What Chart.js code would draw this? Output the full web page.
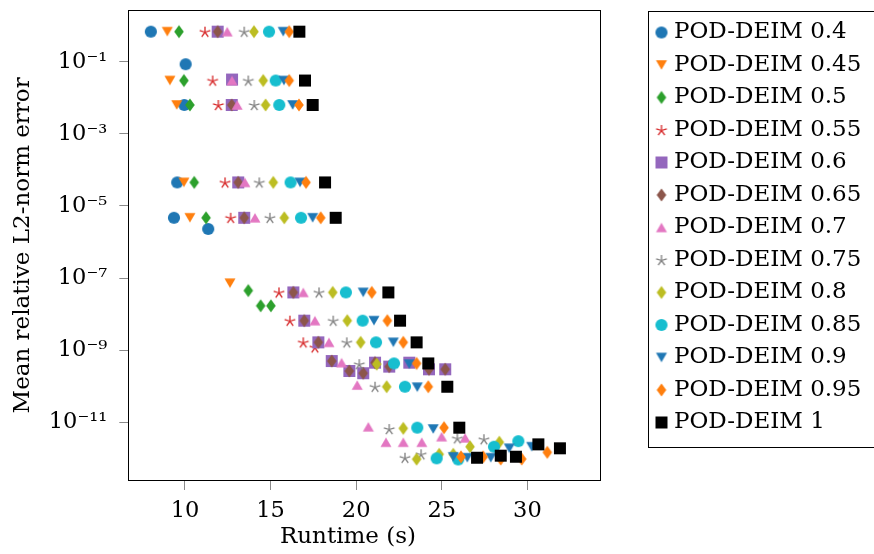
<!DOCTYPE html>
<html>
<head>
<meta charset="utf-8">
<title>POD-DEIM: runtime vs. mean relative L2-norm error</title>
<script src="https://cdn.jsdelivr.net/npm/chart.js@4.4.1/dist/chart.umd.min.js"></script>
<style>
html, body { margin: 0; padding: 0; background: #ffffff; }
#wrap { position: relative; width: 874px; height: 554px; }
</style>
</head>
<body>
<div id="wrap"><canvas id="chart"></canvas></div>
<script>
// ---------------- data ----------------
const seriesLabels = ['POD-DEIM 0.4', 'POD-DEIM 0.45', 'POD-DEIM 0.5', 'POD-DEIM 0.55', 'POD-DEIM 0.6',
  'POD-DEIM 0.65', 'POD-DEIM 0.7', 'POD-DEIM 0.75', 'POD-DEIM 0.8', 'POD-DEIM 0.85', 'POD-DEIM 0.9',
  'POD-DEIM 0.95', 'POD-DEIM 1'];

const runtime040 = [8.01, 10.04, 9.96, 9.55, 9.36, 11.36];
const error040   = [0.68, 0.085, 0.0063, 4.5e-5, 4.7e-6, 2.3e-6];

const runtime045 = [8.97, 9.12, 9.52, 9.94, 10.29, 12.63];
const error045   = [0.68, 0.030, 0.0063, 4.5e-5, 4.7e-6, 7.2e-8];

const runtime050 = [9.65, 9.94, 10.29, 10.54, 11.23, 13.70, 14.42, 15.02];
const error050   = [0.68, 0.030, 0.0063, 4.5e-5, 4.7e-6, 4.5e-8, 1.7e-8, 1.7e-8];

const runtime055 = [11.17, 11.62, 11.95, 12.34, 12.67, 15.49, 16.13, 16.91, 17.59];
const error055   = [0.68, 0.030, 0.0063, 4.5e-5, 4.7e-6, 4.0e-8, 6.6e-9, 1.65e-9, 1.2e-9];

const runtime060 = [11.91, 12.75, 12.73, 13.11, 13.46, 16.33, 16.97, 17.79, 18.57, 19.60, 20.41, 21.10, 21.93, 23.10, 24.25, 25.20];
const error060   = [0.68, 0.032, 0.0063, 4.5e-5, 4.7e-6, 4.0e-8, 6.6e-9, 1.65e-9, 5.0e-10, 2.65e-10, 2.3e-10, 4.5e-10, 3.5e-10, 4.5e-10, 2.95e-10, 2.95e-10];

const runtime065 = [11.91, 12.73, 13.11, 13.46, 16.33, 16.97, 17.79, 18.57, 19.60, 20.41, 21.10, 21.93, 24.25, 25.20];
const error065   = [0.68, 0.0063, 4.5e-5, 4.7e-6, 4.0e-8, 6.6e-9, 1.65e-9, 5.0e-10, 2.65e-10, 2.3e-10, 4.5e-10, 3.5e-10, 2.95e-10, 2.95e-10];

const runtime070 = [12.47, 12.75, 13.05, 13.50, 14.09, 16.91, 17.59, 18.41, 19.15, 20.06, 20.71, 21.74, 22.75, 23.83, 24.99, 26.36];
const error070   = [0.68, 0.030, 0.0063, 4.5e-5, 4.7e-6, 4.0e-8, 6.6e-9, 1.65e-9, 4.5e-10, 1.08e-10, 7.5e-12, 2.8e-12, 2.8e-12, 2.8e-12, 4.0e-12, 3.7e-12];

const runtime075 = [13.46, 13.70, 14.05, 14.34, 14.96, 17.83, 18.66, 19.45, 20.18, 21.10, 21.93, 22.85, 23.79, 25.91, 27.46];
const error075   = [0.68, 0.030, 0.0063, 4.5e-5, 4.7e-6, 4.0e-8, 6.6e-9, 1.65e-9, 4.1e-10, 9.7e-11, 6.5e-12, 1.04e-12, 1.3e-12, 3.6e-12, 3.4e-12];

const runtime080 = [14.03, 14.57, 14.71, 15.16, 15.80, 18.63, 19.48, 20.26, 21.20, 21.78, 22.75, 23.53, 24.85, 25.67, 26.65, 28.36];
const error080   = [0.68, 0.030, 0.0063, 4.5e-5, 4.7e-6, 4.0e-8, 6.6e-9, 1.65e-9, 4.1e-10, 9.7e-11, 6.8e-12, 9.5e-13, 1.3e-12, 1.3e-12, 2.1e-12, 2.8e-12];

const runtime085 = [14.91, 15.30, 15.51, 16.17, 16.78, 19.40, 20.38, 21.16, 22.21, 22.85, 23.57, 24.70, 25.96, 28.05, 29.47];
const error085   = [0.68, 0.030, 0.0063, 4.5e-5, 4.7e-6, 4.0e-8, 6.6e-9, 1.65e-9, 4.3e-10, 9.7e-11, 7.1e-12, 1.0e-12, 9.3e-13, 2.1e-12, 3.0e-12];

const runtime090 = [15.74, 15.78, 16.29, 16.72, 17.46, 20.41, 21.04, 22.17, 23.10, 23.57, 24.50, 25.67, 26.49, 27.86, 28.94, 30.25];
const error090   = [0.68, 0.030, 0.0063, 4.5e-5, 4.7e-6, 4.0e-8, 6.6e-9, 1.65e-9, 4.1e-10, 9.4e-11, 6.5e-12, 1.1e-12, 1.04e-12, 1.04e-12, 1.9e-12, 2.1e-12];

const runtime095 = [16.09, 16.09, 16.66, 17.07, 17.93, 20.91, 21.82, 22.75, 23.53, 24.21, 25.13, 26.12, 27.42, 28.44, 29.67, 31.16];
const error095   = [0.68, 0.030, 0.0063, 4.5e-5, 4.7e-6, 4.0e-8, 6.6e-9, 1.65e-9, 4.3e-10, 9.7e-11, 7.1e-12, 1.1e-12, 1.1e-12, 9.6e-13, 9.6e-13, 1.47e-12];

const runtime100 = [16.68, 17.01, 17.46, 18.18, 18.80, 21.88, 22.56, 23.53, 24.21, 25.32, 26.02, 27.06, 28.44, 29.33, 30.64, 31.90];
const error100   = [0.68, 0.030, 0.0063, 4.5e-5, 4.7e-6, 4.0e-8, 6.6e-9, 1.65e-9, 4.3e-10, 9.7e-11, 7.1e-12, 1.04e-12, 1.19e-12, 1.11e-12, 2.45e-12, 1.9e-12];

const xTickValues = [10, 15, 20, 25, 30];
const xTickLabels = ['10', '15', '20', '25', '30'];
const yTickValues = [1e-1, 1e-3, 1e-5, 1e-7, 1e-9, 1e-11];
const yTickLabels = ['10\u207B\u00B9', '10\u207B\u00B3', '10\u207B\u2075', '10\u207B\u2077', '10\u207B\u2079', '10\u207B\u00B9\u00B9'];
const xTitle = 'Runtime (s)';
const yTitle = 'Mean relative L2-norm error';

// axis ranges
const xMin = 6.75, xMax = 34.24;
const yMin = Math.pow(10, -12.6), yMax = Math.pow(10, 0.414);

// ---------------- styles ----------------
const runtimes = [runtime040, runtime045, runtime050, runtime055, runtime060, runtime065, runtime070,
  runtime075, runtime080, runtime085, runtime090, runtime095, runtime100];
const errors = [error040, error045, error050, error055, error060, error065, error070,
  error075, error080, error085, error090, error095, error100];
const seriesColors = ['#1f77b4', '#ff7f0e', '#2ca02c', '#d62728', '#9467bd', '#8c564b', '#e377c2',
  '#7f7f7f', '#bcbd22', '#17becf', '#1f77b4', '#ff7f0e', '#000000'];
const seriesMarkers = ['circle', 'triDown', 'diamond', 'star', 'square', 'diamond', 'triUp',
  'star', 'diamond', 'circle', 'triDown', 'diamond', 'square'];

const FONT = 'DejaVu Serif';
Chart.defaults.font.family = FONT;
Chart.defaults.color = '#000';

function makeMarker(shape, color) {
  const c = document.createElement('canvas');
  c.width = 16; c.height = 16;
  const g = c.getContext('2d');
  const m = 8;
  g.fillStyle = color; g.strokeStyle = color;
  g.beginPath();
  if (shape === 'circle') {
    g.arc(m, m, 6.1, 0, Math.PI * 2); g.fill();
  } else if (shape === 'square') {
    g.fillRect(m - 6, m - 6, 12, 12);
  } else if (shape === 'diamond') {
    g.moveTo(m, m - 6.6); g.lineTo(m + 4.8, m); g.lineTo(m, m + 6.6); g.lineTo(m - 4.8, m);
    g.closePath(); g.fill();
  } else if (shape === 'triUp') {
    g.moveTo(m, m - 4.8); g.lineTo(m + 5.5, m + 4.8); g.lineTo(m - 5.5, m + 4.8);
    g.closePath(); g.fill();
  } else if (shape === 'triDown') {
    g.moveTo(m, m + 4.8); g.lineTo(m + 5.5, m - 4.8); g.lineTo(m - 5.5, m - 4.8);
    g.closePath(); g.fill();
  } else if (shape === 'star') {
    g.lineWidth = 1.3; g.lineCap = 'butt';
    for (let k = 0; k < 5; k++) {
      const a = -Math.PI / 2 + k * 2 * Math.PI / 5;
      g.moveTo(m, m + 0.5);
      g.lineTo(m + 5.6 * Math.cos(a), m + 0.5 + 5.6 * Math.sin(a));
    }
    g.stroke();
  }
  return c;
}

const datasets = seriesLabels.map((label, i) => ({
  label: label,
  data: runtimes[i].map((x, j) => ({ x: x, y: errors[i][j] })),
  pointStyle: makeMarker(seriesMarkers[i], seriesColors[i]),
  pointRadius: 6,
  pointHoverRadius: 6,
  backgroundColor: seriesColors[i],
  borderColor: seriesColors[i],
  showLine: false,
  order: -i
}));

const layoutPlugin = {
  id: 'layoutTweaks',
  afterLayout(chart) {
    const lg = chart.legend;
    if (lg) {
      const w = lg.width, h = lg.height;
      lg.left = 651; lg.top = 11.5;
      lg.right = lg.left + w; lg.bottom = lg.top + h;
    }
    const xs = chart.scales.x;
    xs.right -= 33.3;
  },
  afterDatasetsDraw(chart) {
    const { ctx, chartArea: a } = chart;
    ctx.save();
    ctx.strokeStyle = '#000';
    ctx.lineWidth = 1;
    ctx.strokeRect(Math.round(a.left) - 0.5, Math.round(a.top) - 0.5,
      Math.round(a.right) - Math.round(a.left) + 1, Math.round(a.bottom) - Math.round(a.top) + 1);
    ctx.restore();
  },
  afterDraw(chart) {
    const lg = chart.legend;
    if (!lg) return;
    const ctx = chart.ctx;
    ctx.save();
    ctx.strokeStyle = '#000';
    ctx.lineWidth = 1;
    ctx.strokeRect(Math.round(lg.left - 3) + 0.5, Math.round(lg.top - 1) + 0.5, 240, 436);
    ctx.restore();
  }
};

new Chart(document.getElementById('chart'), {
  type: 'scatter',
  data: { datasets: datasets },
  plugins: [layoutPlugin],
  options: {
    responsive: true,
    maintainAspectRatio: false,
    animation: false,
    events: [],
    layout: { padding: { left: 0, top: 10.7, right: 274, bottom: 0 } },
    scales: {
      x: {
        type: 'linear',
        position: 'bottom',
        min: xMin,
        max: xMax,
        afterBuildTicks: (s) => { s.ticks = xTickValues.map(v => ({ value: v })); },
        afterFit: (s) => { s.height = 74; s.paddingLeft = 0; s.paddingRight = 0; s.paddingTop = 0; s.paddingBottom = 0; },
        ticks: {
          autoSkip: false,
          maxRotation: 0,
          padding: 8,
          color: '#000',
          font: { family: FONT, size: 22.5 },
          callback: (v, i) => xTickLabels[i]
        },
        grid: { display: true, drawOnChartArea: false, drawTicks: true, tickLength: 10, color: '#8a8a8a', lineWidth: 1 },
        border: { display: false },
        title: { display: true, text: xTitle, color: '#000', font: { family: FONT, size: 23 }, padding: { top: 0, bottom: 3 } }
      },
      y: {
        type: 'logarithmic',
        position: 'left',
        min: yMin,
        max: yMax,
        afterBuildTicks: (s) => { s.ticks = yTickValues.map(v => ({ value: v })); },
        afterFit: (s) => { s.width = 129.3; s.paddingTop = 0; s.paddingBottom = 0; s.paddingLeft = 0; s.paddingRight = 0; },
        ticks: {
          autoSkip: false,
          padding: 12,
          color: '#000',
          font: { family: FONT, size: 22.5 },
          callback: (v, i) => yTickLabels[i]
        },
        grid: { display: true, drawOnChartArea: false, drawTicks: true, tickLength: 10, color: '#8a8a8a', lineWidth: 1 },
        border: { display: false },
        title: { display: true, text: yTitle, color: '#000', font: { family: FONT, size: 23 }, padding: { top: 9, bottom: 0 } }
      }
    },
    plugins: {
      tooltip: { enabled: false },
      legend: {
        display: true,
        position: 'chartArea',
        align: 'start',
        labels: {
          usePointStyle: true,
          boxWidth: 2,
          boxHeight: 8,
          padding: 9.5,
          color: '#000',
          font: { family: FONT, size: 23 },
          sort: (a, b) => a.datasetIndex - b.datasetIndex
        }
      }
    }
  }
});
</script>
</body>
</html>
